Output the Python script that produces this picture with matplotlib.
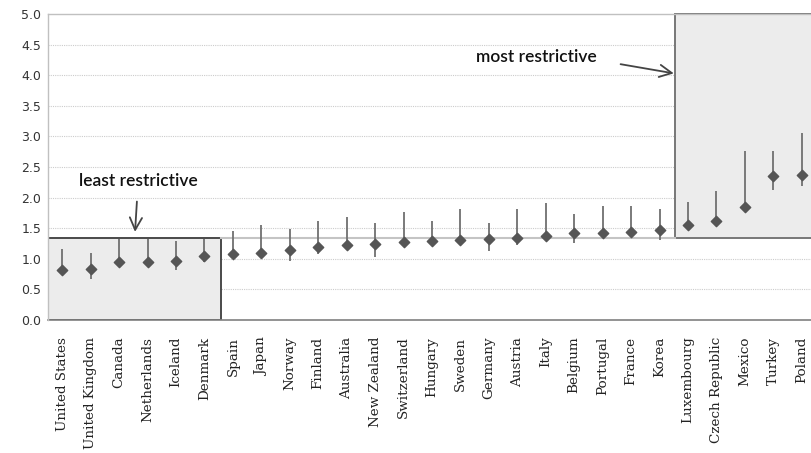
import matplotlib
matplotlib.use("Agg")
import matplotlib.pyplot as plt
from matplotlib.patches import Rectangle

countries = ["United States", "United Kingdom", "Canada", "Netherlands", "Iceland",
             "Denmark", "Spain", "Japan", "Norway", "Finland", "Australia",
             "New Zealand", "Switzerland", "Hungary", "Sweden", "Germany", "Austria",
             "Italy", "Belgium", "Portugal", "France", "Korea", "Luxembourg",
             "Czech Republic", "Mexico", "Turkey", "Poland"]
mid = [0.82, 0.83, 0.94, 0.95, 0.97, 1.05, 1.08, 1.10, 1.15, 1.19, 1.23, 1.24, 1.28,
       1.29, 1.30, 1.32, 1.34, 1.37, 1.42, 1.42, 1.44, 1.47, 1.55, 1.61, 1.84, 2.36, 2.37]
high = [1.16, 1.10, 1.33, 1.32, 1.29, 1.33, 1.46, 1.55, 1.49, 1.62, 1.69, 1.58, 1.76,
        1.61, 1.81, 1.59, 1.81, 1.91, 1.73, 1.87, 1.87, 1.81, 1.93, 2.11, 2.76, 2.76, 3.06]
low = [0.80, 0.665, 0.92, 0.93, 0.82, 0.94, 1.06, 1.08, 0.97, 1.08, 1.20, 1.03, 1.26,
       1.27, 1.28, 1.12, 1.225, 1.35, 1.25, 1.40, 1.36, 1.30, 1.53, 1.59, 1.82, 2.12, 2.19]
yticks = [0.0, 0.5, 1.0, 1.5, 2.0, 2.5, 3.0, 3.5, 4.0, 4.5, 5.0]

fig = plt.figure(figsize=(8.11, 4.53), dpi=100)
ax = fig.add_axes([48/811, 133/453, 768/811, 306/453])
x = list(range(len(countries)))

ax.set_xlim(-0.5, len(countries) - 0.5)
ax.set_ylim(0, 5)

# grid
for t in yticks[1:-1]:
    ax.axhline(t, color="#cccccc", lw=0.8, ls=(0, (1, 1)), zorder=0)

# boxes
box_top = 1.34
ax.add_patch(Rectangle((-0.5, 0), 6.07, box_top, facecolor="#ececec",
                       edgecolor="#4a4a4a", lw=1.4, zorder=1))
ax.add_patch(Rectangle((21.55, box_top), 6.0, 5 - box_top, facecolor="#ececec",
                       edgecolor="#777777", lw=1.4, zorder=1, clip_on=False))
ax.plot([5.57, 21.55], [box_top, box_top], color="#c4c4c4", lw=1.5, zorder=1)

# range lines + diamonds
ax.vlines(x, low, high, color="#707070", lw=1.3, zorder=3)
ax.scatter(x, mid, marker="D", s=28, color="#555555", edgecolor="#555555", zorder=4)

ax.set_yticks(yticks)
ax.set_yticklabels([f"{t:.1f}" for t in yticks], fontsize=9, color="#333333",
                   family="DejaVu Sans")
ax.set_xticks(x)
ax.set_xticklabels(countries, rotation=90, fontsize=9.7, family="DejaVu Serif",
                   color="#222222")
ax.tick_params(axis="x", length=0, pad=12)
ax.tick_params(axis="y", length=0, pad=5)

for s in ["left", "top"]:
    ax.spines[s].set_color("#c0c0c0")
    ax.spines[s].set_linewidth(1.0)
ax.spines["right"].set_visible(False)
ax.spines["bottom"].set_color("#808080")
ax.spines["bottom"].set_linewidth(1.2)
ax.spines["bottom"].set_zorder(2)

# annotations
ax.annotate("least restrictive", xy=(2.56, 1.44), xytext=(2.67, 2.27),
            ha="center", va="center", fontsize=12.5, family="Lato", weight="semibold",
            color="#111111",
            arrowprops=dict(arrowstyle="->", color="#444444", lw=1.3,
                            mutation_scale=22, shrinkA=7, shrinkB=0))
ax.annotate("", xy=(21.5, 4.03), xytext=(19.63, 4.18),
            arrowprops=dict(arrowstyle="->", color="#444444", lw=1.3,
                            mutation_scale=22, shrinkA=0, shrinkB=0))
ax.text(16.67, 4.30, "most restrictive", ha="center", va="center", fontsize=12.5,
        family="Lato", weight="semibold", color="#111111")

fig.savefig("out.png", dpi=100)
